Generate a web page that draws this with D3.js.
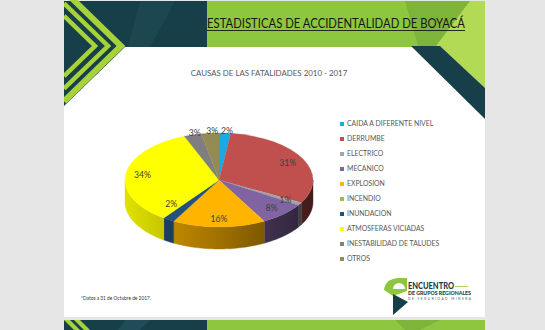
<!DOCTYPE html>
<html lang="en">

<head>
    <meta charset="utf-8">
    <script src='https://d3js.org/d3.v7.min.js'></script>
    <style>
        body { margin: 0; background: #e6e6e6; }
        text { font-family: Lato, "Open Sans", sans-serif; }
    </style>
</head>

<body>

    <script>

        // chart data
        const categories = ["CAIDA A DIFERENTE NIVEL", "DERRUMBE", "ELECTRICO", "MECANICO", "EXPLOSION",
            "INCENDIO", "INUNDACION", "ATMOSFERAS VICIADAS", "INESTABILIDAD DE TALUDES", "OTROS"];
        const values = [2, 31, 1, 8, 16, 0, 2, 34, 3, 3];
        const sliceColors = ["#1ba9e1", "#c0504d", "#a5a5a5", "#8064a2", "#ffb400",
            "#9bbb59", "#24507f", "#ffff00", "#7f7f7f", "#948a54"];
        const chartTitle = "CAUSAS DE LAS FATALIDADES 2010 - 2017";
        const slideTitle = "ESTADISTICAS DE ACCIDENTALIDAD DE BOYACÁ";
        const footNote = "*Datos a 31 de Octubre de 2017.";

        const width = 545;
        const height = 330;
        const teal = "#173f4a";
        const green = "#8fc63f";
        const lime = "#a8d23a";

        const svg = d3.select("body")
            .append("svg")
            .attr("width", width)
            .attr("height", height);

        // ---- slide background and decoration ----
        svg.append("rect").attr("x", 64).attr("y", 1).attr("width", 421).attr("height", 316).attr("fill", "#fff");

        var deco = svg.append("g");
        deco.append("clipPath").attr("id", "slideClip")
            .append("rect").attr("x", 64).attr("y", 0).attr("width", 421).attr("height", 330);
        deco.attr("clip-path", "url(#slideClip)");

        // header
        deco.append("rect").attr("x", 64).attr("y", 1).attr("width", 144).attr("height", 46).attr("fill", teal);
        deco.append("rect").attr("x", 207).attr("y", 1).attr("width", 278).attr("height", 46).attr("fill", green);
        deco.append("polygon").attr("points", "405,1 470,1 436,46 418,46").attr("fill", "#7fb43b");
        deco.append("polygon").attr("points", "470,1 485,1 485,88 440,46 436,46").attr("fill", "#b3da55");
        deco.append("polygon").attr("points", "140,1 175,1 150,47 128,47").attr("fill", "#1f4c57").attr("opacity", 0.6);
        // right diagonal band
        deco.append("polygon").attr("points", "411,46 440,46 485,88 485,119").attr("fill", teal);

        // left chevrons
        deco.append("polygon").attr("points", "64,46 126,46 64,106").attr("fill", teal);
        [121, 108, 95].forEach(function (ax, i) {
            var h = (ax - 64) * 0.97;
            deco.append("polyline")
                .attr("points", "64," + (46 - h) + " " + ax + ",46 64," + (46 + h))
                .attr("fill", "none")
                .attr("stroke", lime)
                .attr("stroke-width", i == 0 ? 6 : 4.5);
        });

        // bottom band (next slide)
        deco.append("rect").attr("x", 64).attr("y", 320).attr("width", 143).attr("height", 10).attr("fill", teal);
        deco.append("rect").attr("x", 207).attr("y", 320).attr("width", 278).attr("height", 10).attr("fill", green);
        deco.append("polygon").attr("points", "395,320 440,320 420,330 405,330").attr("fill", "#7fb43b");
        deco.append("polygon").attr("points", "64,320 70,320 80,330 74,330").attr("fill", lime);
        deco.append("polygon").attr("points", "74,320 80,320 90,330 84,330").attr("fill", lime);
        deco.append("polygon").attr("points", "125,320 150,320 140,330 118,330").attr("fill", "#1f4c57");

        // slide title, squeezed to span 207..465 like the narrow original face
        svg.append("text")
            .attr("x", 207)
            .attr("y", 28)
            .attr("font-size", 12.6)
            .attr("fill", "#161616")
            .attr("textLength", 258)
            .attr("lengthAdjust", "spacingAndGlyphs")
            .text(slideTitle);
        svg.append("line").attr("x1", 207).attr("x2", 465).attr("y1", 30.5).attr("y2", 30.5)
            .attr("stroke", "#161616").attr("stroke-width", 0.9);

        // chart title
        svg.append("text")
            .attr("x", 269)
            .attr("y", 76)
            .attr("text-anchor", "middle")
            .attr("font-size", 7.9)
            .attr("fill", "#595959")
            .text(chartTitle);

        // ---- 3D pie ----
        const cx = 219, cy = 180, rx = 94, ry = 47, depth = 22;

        var color = d3.scaleOrdinal().domain(categories).range(sliceColors);
        var pie = d3.pie().sort(null).value(function (d) { return d; });
        var arcs = pie(values).map(function (a, i) { a.cat = categories[i]; return a; });

        function px(a, f) { return cx + rx * f * Math.sin(a); }
        function py(a, f) { return cy - ry * f * Math.cos(a); }

        var defs = svg.append("defs");
        arcs.forEach(function (a, i) {
            var base = d3.color(color(a.cat));
            var g = defs.append("linearGradient")
                .attr("id", "side" + i)
                .attr("gradientUnits", "userSpaceOnUse")
                .attr("x1", cx - rx).attr("x2", cx + rx).attr("y1", 0).attr("y2", 0);
            g.append("stop").attr("offset", 0).attr("stop-color", base.darker(0.35));
            g.append("stop").attr("offset", 0.5).attr("stop-color", base.darker(1.3));
            g.append("stop").attr("offset", 1).attr("stop-color", base.darker(3));
        });

        // outer walls, only the front half is visible
        var sides = svg.append("g");
        arcs.forEach(function (a, i) {
            var a0 = Math.max(a.startAngle, Math.PI / 2);
            var a1 = Math.min(a.endAngle, Math.PI * 1.5);
            if (a1 <= a0) return;
            var pts = [];
            var n = 40;
            for (var k = 0; k <= n; k++) {
                var t = a0 + (a1 - a0) * k / n;
                pts.push([px(t, 1), py(t, 1)]);
            }
            for (var k = n; k >= 0; k--) {
                var t = a0 + (a1 - a0) * k / n;
                pts.push([px(t, 1), py(t, 1) + depth]);
            }
            sides.append("path")
                .attr("d", d3.line()(pts) + "Z")
                .attr("fill", "url(#side" + i + ")")
                .attr("stroke", "url(#side" + i + ")")
                .attr("stroke-width", 0.4);
        });

        // top faces
        var tops = svg.append("g");
        arcs.forEach(function (a) {
            if (a.endAngle - a.startAngle <= 0) return;
            var large = (a.endAngle - a.startAngle) > Math.PI ? 1 : 0;
            var d = "M" + cx + "," + cy +
                "L" + px(a.startAngle, 1) + "," + py(a.startAngle, 1) +
                "A" + rx + "," + ry + " 0 " + large + " 1 " + px(a.endAngle, 1) + "," + py(a.endAngle, 1) + "Z";
            tops.append("path")
                .attr("d", d)
                .attr("fill", color(a.cat))
                .attr("stroke", color(a.cat))
                .attr("stroke-width", 0.3);
        });

        // data labels
        var labels = svg.append("g");
        arcs.forEach(function (a) {
            if (a.value <= 0) return;
            var mid = (a.startAngle + a.endAngle) / 2;
            var outside = a.value < 5 && Math.cos(mid) > 0.5;
            var x, y;
            if (outside) {
                x = px(mid, 1) + 2;
                y = py(mid, 1) + 1;
            } else if (a.value < 5 && Math.sin(mid) < 0) {
                // small slice on the left: label nudged onto the neighbouring face
                x = px(mid, 0.95);
                y = py(mid, 0.6) + 3;
            } else {
                x = px(mid, 0.82);
                y = py(mid, 0.82) + 3;
            }
            labels.append("text")
                .attr("x", x)
                .attr("y", y)
                .attr("text-anchor", "middle")
                .attr("font-size", 8.6)
                .attr("fill", "#404040")
                .text(a.value + "%");
        });

        // legend
        var ly = d3.scalePoint().domain(categories).range([124, 259]);
        var legend = svg.append("g");
        categories.forEach(function (c) {
            legend.append("rect")
                .attr("x", 340)
                .attr("y", ly(c) - 2)
                .attr("width", 4)
                .attr("height", 4)
                .attr("fill", color(c));
            legend.append("text")
                .attr("x", 347)
                .attr("y", ly(c))
                .attr("dy", "0.35em")
                .attr("font-size", 6.9)
                .attr("fill", "#595959")
                .text(c);
        });

        // footnote
        svg.append("text")
            .attr("x", 81)
            .attr("y", 300)
            .attr("font-size", 4.8)
            .attr("fill", "#333")
            .text(footNote);

        // logo
        var logo = svg.append("g");
        logo.append("path")
            .attr("d", "M407,278 L398,278 Q385,279 384,290 L393,296 L407,291 Z")
            .attr("fill", green);
        logo.append("path")
            .attr("d", "M393,289 A6,6 0 0 1 405,289 Z")
            .attr("fill", "#fff");
        logo.append("polygon")
            .attr("points", "393,294 408,302 393,315")
            .attr("fill", teal);
        logo.append("text")
            .attr("x", 408).attr("y", 289)
            .attr("font-size", 8.6).attr("font-weight", 900)
            .attr("fill", teal)
            .attr("textLength", 46).attr("lengthAdjust", "spacingAndGlyphs")
            .text("ENCUENTRO");
        logo.append("line").attr("x1", 455).attr("x2", 468).attr("y1", 286.5).attr("y2", 286.5)
            .attr("stroke", green).attr("stroke-width", 0.8);
        logo.append("text")
            .attr("x", 408).attr("y", 295)
            .attr("font-size", 4.6).attr("font-weight", 900)
            .attr("fill", teal)
            .attr("textLength", 63).attr("lengthAdjust", "spacingAndGlyphs")
            .text("DE GRUPOS REGIONALES");
        logo.append("text")
            .attr("x", 408).attr("y", 299.5)
            .attr("font-size", 3.2)
            .attr("fill", "#555")
            .attr("textLength", 63).attr("lengthAdjust", "spacing")
            .text("DE SEGURIDAD MINERA");

    </script>

</body>

</html>
